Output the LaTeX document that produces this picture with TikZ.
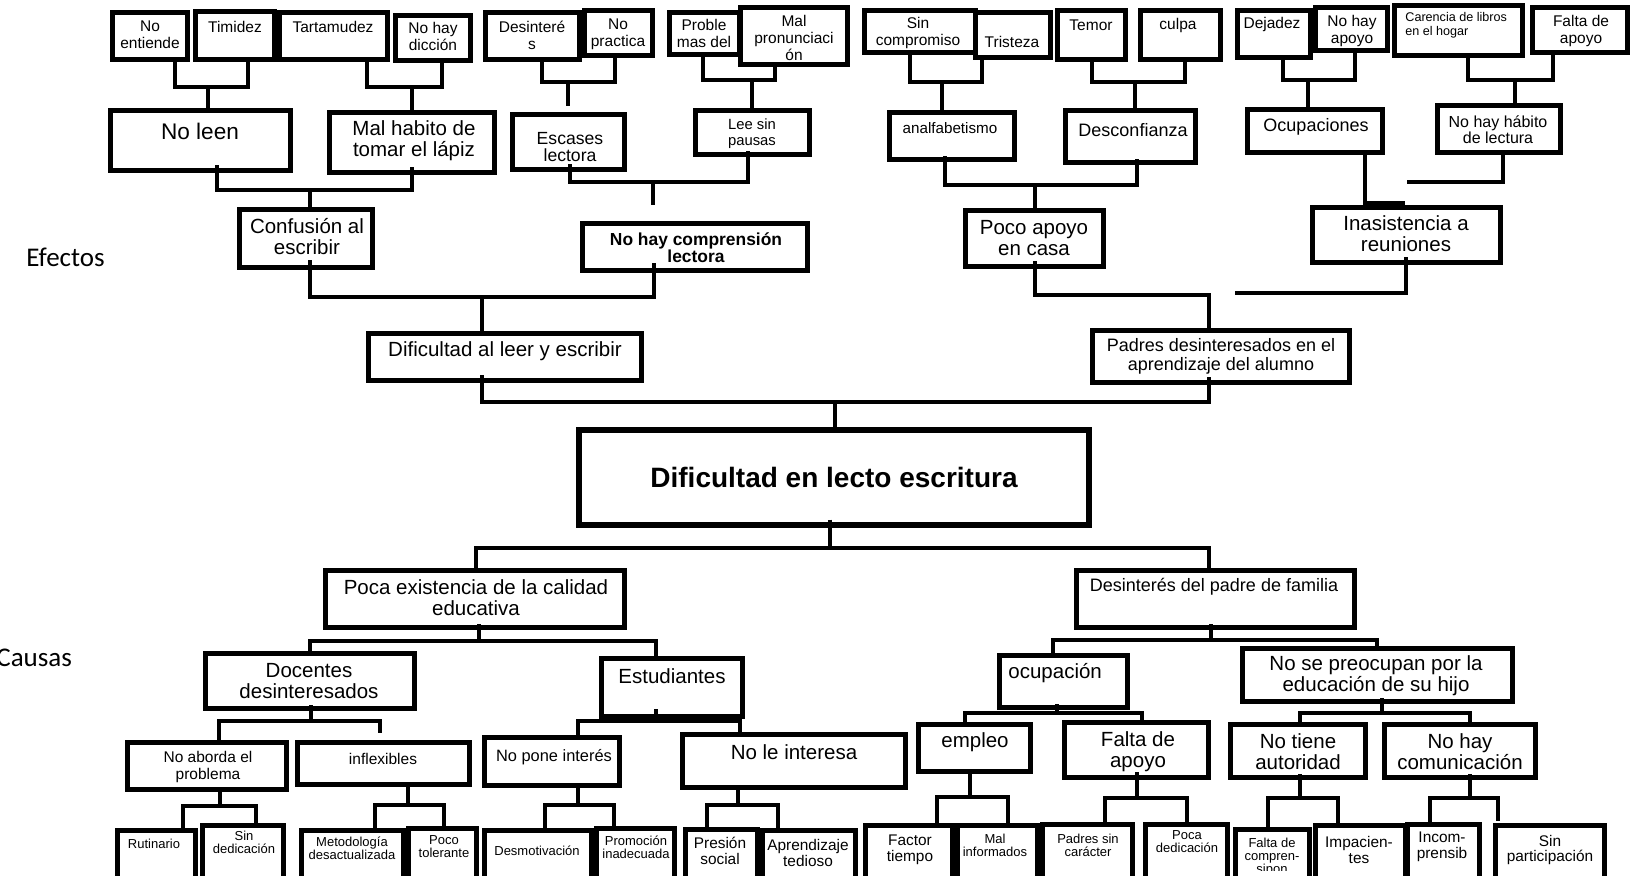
\documentclass[tikz,border=0pt]{standalone}
\usepackage{fontspec}
\setmainfont{Liberation Sans}
\newfontfamily\calib{Carlito}
\usetikzlibrary{calc}
\newcommand\bx[6][]{%
  \pgfmathsetmacro\bxw{(#5-#3-5)*0.5}%
  \pgfmathsetmacro\bxh{(#6-#4-5)*0.5}%
  \node[box,minimum width=\bxw pt,minimum height=\bxh pt,#1] (#2) at ({(#3+#5)/2},{(#4+#6)/2}) {};%
}
\newcommand\tx[5][]{\node[txt,#1] (#2) at (#3,#4) {#5};}
% up fork: #1 offset, #2 id, #3 left node, #4 xL, #5 right node, #6 xR, #7 xJ, #8 yJ, #9 child
\newcommand\up[9][0]{%
  \coordinate (#2l) at (#4,#8);%
  \coordinate (#2r) at (#6,#8);%
  \coordinate (#2j) at (#7,#8);%
  \draw[conn] ($(#3.south -| #2l)+(0,-#1)$) -- (#2l) -- (#2r) -- ($(#5.south -| #2r)+(0,-#1)$);%
  \draw[conn] (#2j) -- (#9.north -| #2j);%
}
% down fork: #1 offset, #2 id, #3 parent, #4 xJ, #5 yJ, #6 left node, #7 xL, #8 right node, #9 xR
\newcommand\dn[9][0]{%
  \coordinate (#2l) at (#7,#5);%
  \coordinate (#2r) at (#9,#5);%
  \coordinate (#2j) at (#4,#5);%
  \draw[conn] ($(#3.south -| #2j)+(0,-#1)$) -- (#2j);%
  \draw[conn] (#6.north -| #2l) -- (#2l) -- (#2r) -- (#8.north -| #2r);%
}
\begin{document}
\begin{tikzpicture}[x=0.5pt,y=-0.5pt,
  box/.style={draw=black,line width=2.5pt,fill=white,inner sep=0pt},
  conn/.style={draw=black,line width=2pt},
  txt/.style={inner sep=0pt,align=center},
  fs/.style 2 args={font=\fontsize{#1}{#2}\selectfont},
  ts/.style={fs={7.75}{8.5}},
  tm/.style={fs={10.25}{10.5}},
  tb/.style={fs={7.7}{7.8}},
  tt/.style={fs={6.5}{6.5}},
  tbold/.style={font=\fontsize{8.7}{8.6}\selectfont\bfseries},
  title/.style={font=\fontsize{14}{14}\selectfont\bfseries}]
\useasboundingbox (0,0) rectangle (1633,875);
\fill[white] (0,0) rectangle (1633,875);

% ---------- top row ----------
\bx{noent}{110}{10}{190}{62}
\bx{timid}{193}{9}{277}{62}
\bx{tarta}{277}{10}{390}{62}
\bx{dicc}{393}{13}{473}{63}
\bx{desint}{483}{10}{582}{62}
\bx{noprac}{582}{8}{655}{58}
\bx{proble}{667}{10}{742}{57}
\bx{malpron}{738}{5}{850}{67}
\bx{trist}{973}{10}{1053}{60}
\bx{sincomp}{862}{8}{978}{55}
\bx{temor}{1055}{8}{1128}{62}
\bx{culpa}{1138}{8}{1223}{62}
\bx{dejad}{1235}{8}{1313}{60}
\bx{nohayap}{1313}{5}{1390}{53}
\bx{carenc}{1392}{3}{1525}{58}
\bx{faltaapa}{1530}{5}{1630}{55}

% ---------- second row ----------
\bx{noleen}{108}{108}{293}{173}
\bx{malhab}{327}{110}{497}{175}
\bx{escas}{510}{112}{627}{172}
\bx{leesin}{693}{108}{812}{157}
\bx{analf}{887}{110}{1017}{162}
\bx{desconf}{1063}{108}{1198}{165}
\bx{ocupac}{1245}{107}{1385}{155}
\bx{nohab}{1435}{103}{1563}{155}

% ---------- effects ----------
\bx{confus}{237}{207}{375}{270}
\bx{compr}{580}{221}{810}{273}
\bx{poco}{963}{208}{1106}{269}
\bx{inas}{1310}{205}{1503}{265}
\bx{difleer}{366}{331}{644}{383}
\bx{padres}{1090}{328}{1352}{385}
\bx[line width=3pt]{main}{576}{427}{1091}{527}

% ---------- causes ----------
\bx{pocaex}{323}{568}{627}{630}
\bx{desintb}{1074}{568}{1357}{630}
\bx{docent}{203}{651}{417}{711}
\bx{estud}{599}{656}{745}{719}
\bx{ocupb}{997}{653}{1130}{710}
\bx{nosepre}{1240}{646}{1515}{704}
\bx{noab}{125}{740}{289}{792}
\bx{inflex}{295}{740}{472}{787}
\bx{nopone}{482}{735}{622}{788}
\bx{nolei}{680}{732}{908}{790}
\bx{empleo}{916}{722}{1033}{774}
\bx{faltaapb}{1062}{720}{1211}{780}
\bx{notiene}{1228}{722}{1368}{780}
\bx{nocom}{1382}{722}{1538}{780}

% ---------- bottom row ----------
\bx{rutin}{115}{828}{198}{890}
\bx{sindedic}{200}{823}{286}{890}
\bx{metod}{299}{828}{406}{890}
\bx{pocotol}{406}{826}{479}{890}
\bx{desmot}{482}{828}{594}{890}
\bx{promoc}{594}{826}{677}{890}
\bx{presion}{683}{827}{760}{890}
\bx{aprend}{760}{828}{858}{890}
\bx{factor}{863}{823}{955}{890}
\bx{malinf}{955}{823}{1040}{890}
\bx{padsin}{1040}{822}{1135}{890}
\bx{pocaded}{1143}{822}{1230}{890}
\bx{faltacomp}{1233}{827}{1312}{890}
\bx{impac}{1313}{823}{1408}{890}
\bx{incomp}{1405}{822}{1482}{890}
\bx{sinpart}{1493}{823}{1607}{890}

% ---------- connectors: effects tree ----------
\up{ka}{noent}{175}{timid}{248}{208}{87}{noleen}
\up{kb}{tarta}{367}{dicc}{442}{412}{87}{malhab}
\coordinate (kcl) at (542,82); \coordinate (kcr) at (615,82);
\coordinate (kcj) at (568,82); \coordinate (kce) at (568,106);
\draw[conn] (desint.south -| kcl) -- (kcl) -- (kcr) -- (noprac.south -| kcr);
\draw[conn] (kcj) -- (kce);
\up{kd}{proble}{703}{malpron}{775}{752}{80}{leesin}
\up{ke}{sincomp}{910}{trist}{982}{942}{82}{analf}
\up{kf}{temor}{1092}{culpa}{1185}{1135}{82}{desconf}
\up{kg}{dejad}{1283}{nohayap}{1355}{1308}{80}{ocupac}
\up{kh}{carenc}{1468}{faltaapa}{1553}{1515}{80}{nohab}

\up[8]{ki}{noleen}{217}{malhab}{412}{310}{190}{confus}
\coordinate (kjl) at (570,182); \coordinate (kjr) at (748,182);
\coordinate (kjj) at (653,182); \coordinate (kje) at (653,205);
\draw[conn] ($(escas.south -| kjl)+(0,-8)$) -- (kjl) -- (kjr) -- ($(leesin.south -| kjr)+(0,-6)$);
\draw[conn] (kjj) -- (kje);
\up[6]{kk}{analf}{945}{desconf}{1137}{1035}{185}{poco}
\coordinate (kla) at (1503,182); \coordinate (kle) at (1407,182);
\draw[conn] (nohab.south -| kla) -- (kla) -- (kle);
\coordinate (kma) at (1365,203); \coordinate (kmb) at (1405,203);
\draw[conn] (ocupac.south -| kma) -- (kma) -- (kmb);

\up[10]{kn}{confus}{310}{compr}{654}{482}{297}{difleer}
\coordinate (koa) at (1035,295); \coordinate (kob) at (1209,295);
\draw[conn] ($(poco.south -| koa)+(0,-8)$) -- (koa) -- (kob) -- (padres.north -| kob);
\coordinate (kpa) at (1406,293); \coordinate (kpe) at (1235,293);
\draw[conn] ($(inas.south -| kpa)+(0,-8)$) -- (kpa) -- (kpe);
\up[8]{kq}{difleer}{482}{padres}{1209}{835}{402}{main}

% ---------- connectors: causes tree ----------
\dn[8]{kr}{main}{830}{548}{pocaex}{476}{desintb}{1209}
\dn[6]{ks}{pocaex}{479}{641}{docent}{310}{estud}{656}
\dn[6]{kt}{desintb}{1211}{640}{ocupb}{1053}{nosepre}{1377}
\coordinate (kuj) at (311,721); \coordinate (kul) at (219,721);
\coordinate (kur) at (380,721); \coordinate (kue) at (380,733);
\draw[conn] ($(docent.south -| kuj)+(0,-6)$) -- (kuj);
\draw[conn] (noab.north -| kul) -- (kul) -- (kur) -- (kue);
\dn[10]{kv}{estud}{656}{721}{nopone}{578}{nolei}{740}
\dn[6]{kw}{ocupb}{1057}{713}{empleo}{965}{faltaapb}{1142}
\dn[6]{kx}{nosepre}{1382}{713}{notiene}{1300}{nocom}{1470}
\dn[4]{ky}{noab}{220}{806}{rutin}{183}{sindedic}{256}
\dn[4]{kz}{inflex}{408}{805}{metod}{375}{pocotol}{444}
\dn[4]{kaa}{nopone}{578}{805}{desmot}{545}{promoc}{614}
\dn[4]{kab}{nolei}{738}{805}{presion}{707}{aprend}{778}
\dn[4]{kac}{empleo}{970}{797}{factor}{937}{malinf}{1008}
\dn[8]{kad}{faltaapb}{1137}{798}{padsin}{1105}{pocaded}{1187}
\dn[6]{kae}{notiene}{1300}{798}{faltacomp}{1268}{impac}{1338}
\coordinate (kafj) at (1470,798); \coordinate (kafl) at (1430,798);
\coordinate (kafr) at (1498,798); \coordinate (kafe) at (1498,821);
\draw[conn] ($(nocom.south -| kafj)+(0,-6)$) -- (kafj);
\draw[conn] (incomp.north -| kafl) -- (kafl) -- (kafr) -- (kafe);

% ---------- texts ----------
\tx[ts]{ta}{150}{35}{No\\entiende}
\tx[ts]{tb}{235}{27}{Timidez}
\tx[ts]{tc}{333}{27}{Tartamudez}
\tx[ts]{td}{433}{36}{No hay\\dicción}
\tx[ts]{te}{532}{35}{Desinteré\\s}
\tx[ts]{tf}{618}{34}{No\\practica}
\tx[ts]{tg}{704}{33}{Proble\\mas del}
\tx[ts]{th}{794}{38}{Mal\\pronunciaci\\ón}
\tx[ts]{ti}{918}{33}{Sin\\compromiso}
\tx[ts]{tj}{1012}{42}{Tristeza}
\tx[ts]{tk}{1091}{25}{Temor}
\tx[ts]{tl}{1178}{25}{culpa}
\tx[ts]{tm}{1272}{24}{Dejadez}
\tx[ts]{tn}{1352}{31}{No hay\\apoyo}
\tx[fs={6.3}{7},align=left,anchor=west]{to}{1405}{25}{Carencia de libros\\en el hogar}
\tx[ts]{tp}{1581}{31}{Falta de\\apoyo}

\tx[fs={11.3}{12}]{tq}{200}{131}{No leen}
\tx[tm]{tr}{414}{141}{Mal habito de\\tomar el lápiz}
\tx[fs={8.8}{8.6}]{tsa}{570}{147}{Escases\\lectora}
\tx[fs={7.4}{8}]{ttb}{752}{134}{Lee sin\\pausas}
\tx[fs={7.6}{8}]{tu}{950}{128}{analfabetismo}
\tx[fs={9}{9}]{tv}{1133}{130}{Desconfianza}
\tx[fs={9}{9}]{tw}{1316}{127}{Ocupaciones}
\tx[fs={8}{8}]{tx}{1498}{130}{No hay hábito\\de lectura}

\tx[tm]{ty}{307}{237}{Confusión al\\escribir}
\tx[tbold]{tz}{696}{248}{No hay comprensión\\lectora}
\tx[tm]{uaa}{1034}{238}{Poco apoyo\\en casa}
\tx[tm]{uab}{1406}{234}{Inasistencia a\\reuniones}
\tx[tm]{uac}{505}{351}{Dificultad al leer y escribir}
\tx[fs={9}{9.5}]{uad}{1221}{356}{Padres desinteresados en el\\aprendizaje del alumno}
\tx[title]{uae}{834}{477}{Dificultad en lecto escritura}

\tx[tm]{uaf}{476}{598}{Poca existencia de la calidad\\educativa}
\tx[fs={9}{9}]{uag}{1214}{587}{Desinterés del padre de familia}
\tx[tm]{uah}{309}{681}{Docentes\\desinteresados}
\tx[tm]{uai}{672}{676}{Estudiantes}
\tx[tm,anchor=west]{uaj}{1008}{673}{ocupación}
\tx[tm]{uak}{1376}{676}{No se preocupan por la\\educación de su hijo}
\tx[ts]{ual}{208}{767}{No aborda el\\problema}
\tx[ts]{uam}{383}{759}{inflexibles}
\tx[fs={8.2}{9}]{uan}{554}{757}{No pone interés}
\tx[tm]{uao}{794}{752}{No le interesa}
\tx[tm]{uap}{975}{742}{empleo}
\tx[tm]{uaq}{1138}{752}{Falta de\\apoyo}
\tx[tm]{uar}{1298}{752}{No tiene\\autoridad}
\tx[tm]{uas}{1460}{752}{No hay\\comunicación}

\tx[tt]{uat}{154}{844}{Rutinario}
\tx[tt]{uau}{244}{842}{Sin\\dedicación}
\tx[tt]{uav}{352}{848}{Metodología\\desactualizada}
\tx[tt]{uaw}{444}{847}{Poco\\tolerante}
\tx[tt]{uax}{537}{851}{Desmotivación}
\tx[tt]{uay}{636}{847}{Promoción\\inadecuada}
\tx[tb]{uaz}{720}{851}{Presión\\social}
\tx[tb]{uba}{808}{853}{Aprendizaje\\tedioso}
\tx[tb]{ubb}{910}{850}{Factor\\tiempo}
\tx[tt]{ubc}{995}{845}{Mal\\informados}
\tx[tt]{ubd}{1088}{845}{Padres sin\\carácter}
\tx[tt]{ube}{1187}{842}{Poca\\dedicación}
\begin{scope}
\clip (1233,820) rectangle (1312,870);
\tx[tt]{ubf}{1272}{857}{Falta de\\compren-\\sipon}
\end{scope}
\tx[tb]{ubg}{1359}{850}{Impacien-\\tes}
\tx[tb]{ubh}{1442}{847}{Incom-\\prensib}
\tx[tb]{ubi}{1550}{850}{Sin\\participación}

\node[anchor=west,inner sep=0pt,font=\calib\fontsize{13.5}{14}\selectfont] (lefect) at (26,257) {Efectos};
\node[anchor=west,inner sep=0pt,font=\calib\fontsize{13.5}{14}\selectfont] (lcausa) at (-4,658) {Causas};
\end{tikzpicture}
\end{document}
